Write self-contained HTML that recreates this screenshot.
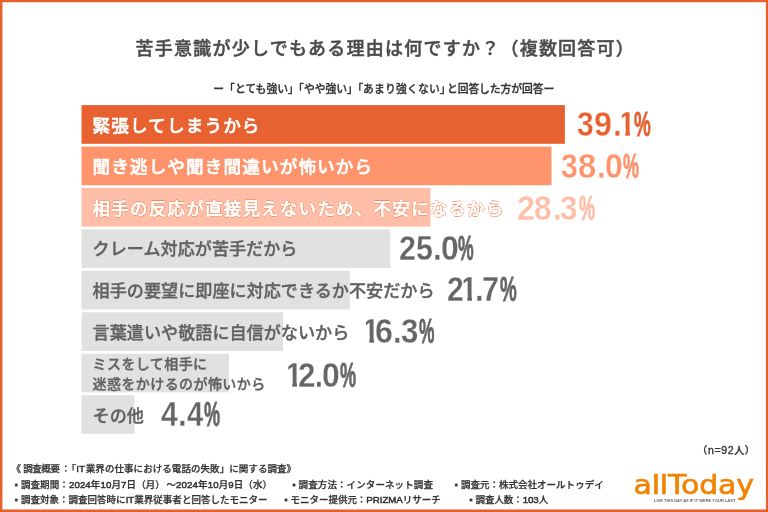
<!DOCTYPE html>
<html lang="ja">
<head>
<meta charset="utf-8">
<title>苦手意識が少しでもある理由は何ですか？</title>
<style>
html,body{margin:0;padding:0;}
body{width:768px;height:512px;overflow:hidden;background:#fff;position:relative;
  font-family:"Liberation Sans","Noto Sans CJK JP",sans-serif;text-spacing-trim:space-all;
  -webkit-font-smoothing:antialiased;}
.abs{position:absolute;white-space:nowrap;line-height:1;}
.title{left:135.6px;top:39.5px;font-size:18px;font-weight:500;color:#4b4b4b;letter-spacing:1.23px;-webkit-text-stroke:0.45px #4b4b4b;}
.sub{left:213.3px;top:83.8px;font-size:10.8px;font-weight:500;color:#333;-webkit-text-stroke:0.3px #333;}
.sub .t{margin-right:-0.53em;}
.sub .u{margin-right:-0.35em;}
.gfx{position:absolute;left:0;top:0;}
.lab{position:absolute;left:92.6px;font-size:17.1px;font-weight:500;letter-spacing:0.02px;white-space:nowrap;line-height:1;color:#616161;-webkit-text-stroke:0.35px #616161;}
.lab.w{color:#fff;-webkit-text-stroke:0.55px #fff;letter-spacing:1.13px;font-size:17.6px;}
.lab.s{font-size:14px;letter-spacing:0.42px;line-height:19.6px;}
.pct{position:absolute;font-family:"Liberation Sans",sans-serif;font-weight:700;font-size:35.5px;line-height:1;white-space:nowrap;
  color:#666;}
.pct span{display:inline-block;transform-origin:0 0;-webkit-text-stroke:0.3px #fff;}
.pct .pc{-webkit-text-stroke:0.8px currentColor;}
.foot{font-size:9.5px;font-weight:500;color:#333;letter-spacing:0.1px;-webkit-text-stroke:0.25px #333;}
.foot .bl{display:inline-block;width:6.4px;}
.foot .l{font-size:9.7px;-webkit-text-stroke-width:0.5px;}
</style>
</head>
<body>
<div class="abs title">苦手意識が少しでもある理由は何ですか？（複数回答可）</div>
<div class="abs sub">ー「とても強い<span class="t">」</span>「やや強い<span class="t">」</span>「<span style="letter-spacing:0.2px">あまり強くない</span><span class="u">」</span><span style="letter-spacing:-0.08px">と回答した方が回答ー</span></div>

<svg class="gfx" width="768" height="512" viewBox="0 0 768 512" shape-rendering="geometricPrecision">
<rect x="81.5" y="105.10" width="483.40" height="38.7" fill="#e76230"/>
<rect x="81.5" y="146.53" width="470.00" height="38.7" fill="#fe946c"/>
<rect x="81.5" y="187.96" width="348.90" height="38.7" fill="#ffbea8"/>
<rect x="81.5" y="229.39" width="308.75" height="38.7" fill="#e1e1e1"/>
<rect x="81.5" y="270.82" width="268.25" height="38.7" fill="#e1e1e1"/>
<rect x="81.5" y="312.25" width="201.50" height="38.7" fill="#e1e1e1"/>
<rect x="81.5" y="353.68" width="147.50" height="38.7" fill="#e1e1e1"/>
<rect x="81.5" y="395.11" width="53.00" height="38.7" fill="#e1e1e1"/>
<path fill="#e5602a" fill-rule="evenodd" d="M0 0H768V512H0Z M2.4 2.2V509.4H765.9V2.2Z"/>
</svg>

<div class="lab w" style="top:118.0px">緊張してしまうから</div>
<div class="lab w" style="top:159.4px">聞き逃しや聞き間違いが怖いから</div>
<div class="lab w" id="l3" style="top:200.6px;-webkit-text-stroke-width:0.7px;text-shadow:0.65px 0px 0 #ec7d50,-0.65px 0px 0 #ec7d50,0px 0.65px 0 #ec7d50,0px -0.65px 0 #ec7d50,0.46px 0.46px 0 #ec7d50,-0.46px 0.46px 0 #ec7d50,0.46px -0.46px 0 #ec7d50,-0.46px -0.46px 0 #ec7d50">相手の反応が直接見えないため、不安になるから</div>
<div class="lab" style="top:241.0px">クレーム対応が苦手だから</div>
<div class="lab" style="top:283.3px">相手の要望に即座に対応できるか不安だから</div>
<div class="lab" style="top:324.8px">言葉遣いや敬語に自信がないから</div>
<div class="lab s" style="top:355.2px">ミスをして相手に<br>迷惑をかけるのが怖いから</div>
<div class="lab" style="top:408.2px">その他</div>

<div class="pct" id="p1" style="left:577.47px;top:107.25px;color:#e76230"><span style="width:17.00px;transform:scaleX(0.845)">3</span><span style="width:18.33px;transform:scaleX(0.907)">9</span><span style="width:5.39px;transform:scaleX(0.880)">.</span><span style="width:16.28px;transform:scaleX(0.900);clip-path:polygon(4.02px 0,13.3px 0,13.3px 36px,8.1px 36px,8.1px 20px,4.02px 20px)">1</span><span class="pc" style="transform:scaleX(0.529)">%</span></div>
<div class="pct" id="p2" style="left:561.37px;top:149.25px;color:#fe946c"><span style="width:16.38px;transform:scaleX(0.845)">3</span><span style="width:18.98px;transform:scaleX(0.926)">8</span><span style="width:8.33px;transform:scaleX(0.870)">.</span><span style="width:18.33px;transform:scaleX(0.896)">0</span><span class="pc" style="transform:scaleX(0.508)">%</span></div>
<div class="pct" id="p3" style="left:517.12px;top:190.75px;color:#ffbea8"><span style="width:17.26px;transform:scaleX(0.903)">2</span><span style="width:18.34px;transform:scaleX(0.891)">8</span><span style="width:7.71px;transform:scaleX(0.870)">.</span><span style="width:18.55px;transform:scaleX(0.882)">3</span><span class="pc" style="transform:scaleX(0.508)">%</span></div>
<div class="pct" id="p4" style="left:399.43px;top:230.95px"><span style="width:16.50px;transform:scaleX(0.859)">2</span><span style="width:16.97px;transform:scaleX(0.857)">5</span><span style="width:7.76px;transform:scaleX(0.880)">.</span><span style="width:17.75px;transform:scaleX(0.896)">0</span><span class="pc" style="transform:scaleX(0.495)">%</span></div>
<div class="pct" id="p5" style="left:446.94px;top:272.45px"><span style="width:13.00px;transform:scaleX(0.847)">2</span><span style="width:14.63px;transform:scaleX(0.900);clip-path:polygon(3.96px 0,13.3px 0,13.3px 36px,8.1px 36px,8.1px 20px,3.96px 20px)">1</span><span style="width:7.74px;transform:scaleX(0.870)">.</span><span style="width:17.66px;transform:scaleX(0.860)">7</span><span class="pc" style="transform:scaleX(0.529)">%</span></div>
<div class="pct" id="p6" style="left:362.29px;top:314.25px"><span style="width:13.17px;transform:scaleX(0.900);clip-path:polygon(4.30px 0,13.3px 0,13.3px 36px,8.1px 36px,8.1px 20px,4.30px 20px)">1</span><span style="width:17.76px;transform:scaleX(0.907)">6</span><span style="width:7.71px;transform:scaleX(0.870)">.</span><span style="width:17.67px;transform:scaleX(0.882)">3</span><span class="pc" style="transform:scaleX(0.488)">%</span></div>
<div class="pct" id="p7" style="left:285.09px;top:357.85px"><span style="width:12.56px;transform:scaleX(0.900);clip-path:polygon(3.69px 0,13.3px 0,13.3px 36px,8.1px 36px,8.1px 20px,3.69px 20px)">1</span><span style="width:17.60px;transform:scaleX(0.882)">2</span><span style="width:7.16px;transform:scaleX(0.800)">.</span><span style="width:17.68px;transform:scaleX(0.896)">0</span><span class="pc" style="transform:scaleX(0.508)">%</span></div>
<div class="pct" id="p8" style="left:161.47px;top:397.25px"><span style="width:16.93px;transform:scaleX(0.853)">4</span><span style="width:8.69px;transform:scaleX(0.880)">.</span><span style="width:16.80px;transform:scaleX(0.821)">4</span><span class="pc" style="transform:scaleX(0.508)">%</span></div>

<div class="abs foot" id="fn" style="left:697.3px;top:444.5px;font-size:10px;letter-spacing:0.6px;-webkit-text-stroke-width:0.35px">（<span style="font-size:10.6px">n=92</span>人）</div>
<div class="abs foot" id="f1" style="left:11.4px;top:464.3px;letter-spacing:0.06px">《<span style="margin-left:2.2px;letter-spacing:-0.4px">調査概要</span><span style="margin-left:1.5px">：</span><span style="margin-left:-4.2px">「</span><span class="l" style="margin:0 0.9px 0 0.2px">IT</span>業界の仕事における電話の失敗」に関する調査》</div>
<div class="abs foot" id="f2a" style="left:14.5px;top:479.6px"><span class="bl">▪</span>調査期間：<span class="l">2024</span>年<span class="l">10</span>月<span class="l">7</span>日（月）<span style="margin-left:1.5px">～</span><span class="l">2024</span>年<span class="l">10</span>月<span class="l">9</span>日（水）</div>
<div class="abs foot" id="f2b" style="left:292.2px;top:479.6px"><span class="bl">▪</span>調査方法：インターネット調査</div>
<div class="abs foot" id="f2c" style="left:454.5px;top:479.6px;letter-spacing:0.02px"><span class="bl">▪</span>調査元：株式会社オールトゥデイ</div>
<div class="abs foot" id="f3a" style="left:14.5px;top:494.6px;letter-spacing:0.02px"><span class="bl">▪</span>調査対象：調査回答時に<span class="l">IT</span>業界従事者と回答したモニター</div>
<div class="abs foot" id="f3b" style="left:284.2px;top:494.6px;letter-spacing:-0.03px"><span class="bl">▪</span>モニター提供元：<span class="l">PRIZMA</span>リサーチ</div>
<div class="abs foot" id="f3c" style="left:469.2px;top:494.6px;letter-spacing:-0.08px"><span class="bl">▪</span>調査人数：<span class="l">103</span>人</div>

<div class="abs logo" id="logo" style="left:633.5px;top:468.2px;-webkit-text-stroke:0.7px #f08300;font-family:'DejaVu Sans',sans-serif;font-size:30px;color:#f08300;letter-spacing:-0.2px;transform:scaleY(0.87);transform-origin:0 100%">allToday</div>
<div class="abs tag" id="tag" style="left:654px;top:498.6px;font-family:'Liberation Sans',sans-serif;font-weight:700;font-size:8px;color:#666;transform:scale(0.5,0.44);transform-origin:0 0">LIVE THIS DAY AS IF IT WERE YOUR LAST</div>

</body>
</html>
